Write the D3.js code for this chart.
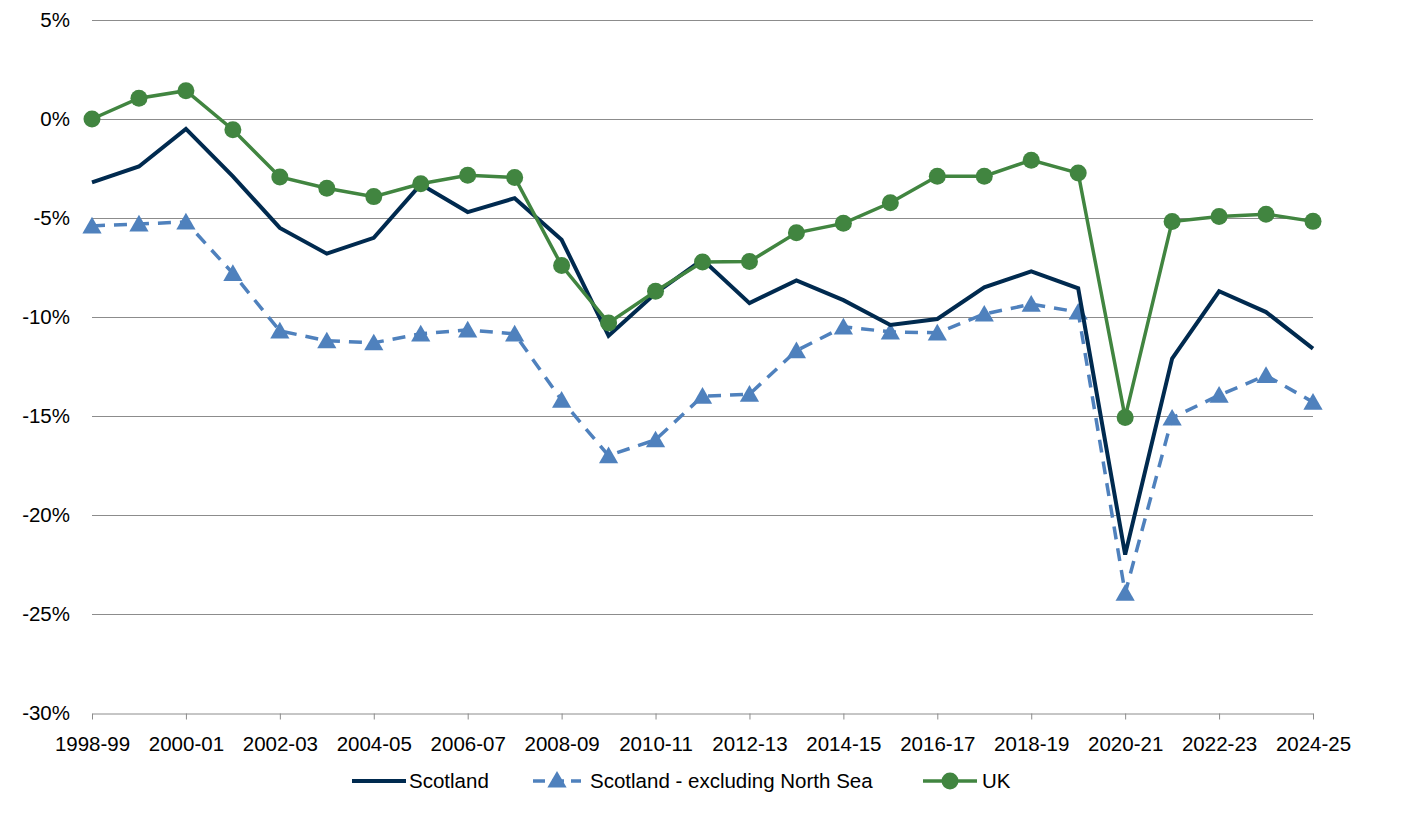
<!DOCTYPE html>
<html>
<head>
  <meta charset="utf-8" />
  <title>Scotland vs UK</title>
  <script src="https://d3js.org/d3.v7.min.js"></script>
  <style>
    body { margin: 0; background: #fff; }
    text { font-family: "Liberation Sans", Arial, sans-serif; fill: #000; }
  </style>
</head>
<body>
  <div id="chart"></div>

  <script>
    // financial years
    const years = [
      "1998-99", "1999-00", "2000-01", "2001-02", "2002-03", "2003-04", "2004-05",
      "2005-06", "2006-07", "2007-08", "2008-09", "2009-10", "2010-11", "2011-12",
      "2012-13", "2013-14", "2014-15", "2015-16", "2016-17", "2017-18", "2018-19",
      "2019-20", "2020-21", "2021-22", "2022-23", "2023-24", "2024-25"
    ];

    // values in %
    const scotland = [
      -3.2, -2.4, -0.5, -2.9, -5.5, -6.8, -6.0, -3.3, -4.7, -4.0, -6.1, -10.95, -8.8,
      -7.1, -9.3, -8.15, -9.15, -10.4, -10.1, -8.5, -7.7, -8.55, -22.0, -12.1, -8.7,
      -9.75, -11.6
    ];
    const scotlandExNorthSea = [
      -5.4, -5.3, -5.2, -7.8, -10.7, -11.2, -11.3, -10.85, -10.65, -10.85, -14.2, -17.0,
      -16.2, -14.0, -13.9, -11.7, -10.5, -10.75, -10.8, -9.85, -9.35, -9.75, -23.95,
      -15.1, -13.95, -12.95, -14.3
    ];
    const uk = [
      0.0, 1.05, 1.43, -0.54, -2.93, -3.5, -3.92, -3.27, -2.84, -2.95, -7.4, -10.3,
      -8.7, -7.22, -7.2, -5.75, -5.27, -4.23, -2.89, -2.89, -2.08, -2.73, -15.07,
      -5.18, -4.92, -4.81, -5.17
    ];

    const yTicks = [5, 0, -5, -10, -15, -20, -25, -30];

    const width = 1420;
    const height = 814;
    const marginLeft = 92;
    const marginRight = 107;
    const marginTop = 20;
    const plotBottom = 713;
    const fontSize = 20.5;

    const navy = "#002a4f";
    const blue = "#4f81bd";
    const green = "#418540";

    const svg = d3.select("#chart")
      .append("svg")
      .attr("width", width)
      .attr("height", height);

    const x = d3.scalePoint()
      .domain(years)
      .range([marginLeft, width - marginRight]);

    const y = d3.scaleLinear()
      .domain([-30, 5])
      .range([plotBottom, marginTop]);

    // gridlines
    svg.append("g")
      .selectAll("line")
      .data(yTicks.filter(d => d !== -30))
      .join("line")
      .attr("x1", x.range()[0])
      .attr("x2", x.range()[1])
      .attr("y1", d => y(d) + 0.5)
      .attr("y2", d => y(d) + 0.5)
      .attr("stroke", "#8c8c8c")
      .attr("stroke-width", 1);

    // y axis labels
    const yAxis = d3.axisLeft(y)
      .tickValues(yTicks)
      .tickSize(0)
      .tickPadding(22)
      .tickFormat(d => d + "%");

    svg.append("g")
      .attr("transform", `translate(${marginLeft},0)`)
      .call(yAxis)
      .call(g => g.select(".domain").remove())
      .call(g => g.selectAll("text")
        .attr("font-size", fontSize)
        .attr("font-family", "Liberation Sans, Arial, sans-serif")
        .attr("fill", "#000"));

    // x axis
    const xAxis = d3.axisBottom(x)
      .tickValues(years.filter((d, i) => i % 2 === 0))
      .tickSize(6)
      .tickPadding(17)
      .tickSizeOuter(0);

    svg.append("g")
      .attr("transform", `translate(0,${plotBottom + 0.5})`)
      .call(xAxis)
      .call(g => g.select(".domain").attr("stroke", "#8c8c8c"))
      .call(g => g.selectAll(".tick line").attr("stroke", "#8c8c8c"))
      .call(g => g.selectAll("text")
        .attr("font-size", fontSize)
        .attr("font-family", "Liberation Sans, Arial, sans-serif")
        .attr("fill", "#000"));

    const line = d3.line()
      .x((d, i) => x(years[i]))
      .y(d => y(d));

    const triangle = d3.symbol().type(d3.symbolTriangle).size(160);

    // Scotland excl. North Sea (dashed, triangles)
    svg.append("path")
      .datum(scotlandExNorthSea)
      .attr("d", line)
      .attr("fill", "none")
      .attr("stroke", blue)
      .attr("stroke-width", 3.5)
      .attr("stroke-dasharray", "13,9");

    svg.append("g")
      .selectAll("path")
      .data(scotlandExNorthSea)
      .join("path")
      .attr("d", triangle)
      .attr("transform", (d, i) => `translate(${x(years[i])},${y(d) + 2})`)
      .attr("fill", blue);

    // Scotland
    svg.append("path")
      .datum(scotland)
      .attr("d", line)
      .attr("fill", "none")
      .attr("stroke", navy)
      .attr("stroke-width", 4);

    // UK
    svg.append("path")
      .datum(uk)
      .attr("d", line)
      .attr("fill", "none")
      .attr("stroke", green)
      .attr("stroke-width", 3.5);

    svg.append("g")
      .selectAll("circle")
      .data(uk)
      .join("circle")
      .attr("cx", (d, i) => x(years[i]))
      .attr("cy", d => y(d))
      .attr("r", 8.5)
      .attr("fill", green);

    // legend
    const legend = svg.append("g").attr("transform", "translate(0,781)");

    legend.append("line")
      .attr("x1", 352).attr("x2", 406)
      .attr("stroke", navy).attr("stroke-width", 4);
    legend.append("text")
      .attr("x", 409).attr("dy", "0.35em")
      .attr("font-size", fontSize)
      .text("Scotland");

    legend.append("line")
      .attr("x1", 533).attr("x2", 581)
      .attr("stroke", blue).attr("stroke-width", 3.5)
      .attr("stroke-dasharray", "12,7");
    legend.append("path")
      .attr("d", triangle)
      .attr("transform", "translate(557,1)")
      .attr("fill", blue);
    legend.append("text")
      .attr("x", 590).attr("dy", "0.35em")
      .attr("font-size", fontSize)
      .text("Scotland - excluding North Sea");

    legend.append("line")
      .attr("x1", 923).attr("x2", 977)
      .attr("stroke", green).attr("stroke-width", 3.5);
    legend.append("circle")
      .attr("cx", 950).attr("r", 8.5)
      .attr("fill", green);
    legend.append("text")
      .attr("x", 982).attr("dy", "0.35em")
      .attr("font-size", fontSize)
      .text("UK");
  </script>
</body>
</html>
